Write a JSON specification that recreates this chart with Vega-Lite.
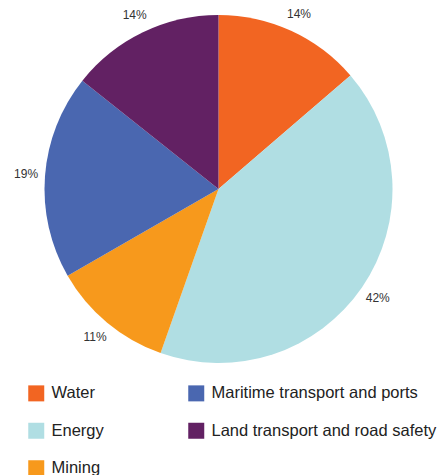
{
  "$schema": "https://vega.github.io/schema/vega-lite/v6.json",
  "width": 437,
  "height": 378,
  "autosize": "none",
  "padding": {"left": 0, "top": 0, "right": 0, "bottom": 97},
  "background": "white",
  "config": {"view": {"stroke": null}, "font": "Liberation Sans"},
  "data": {
    "values": [
      {"sector": "Water", "share": 13.7, "label": "14%", "order": 1},
      {"sector": "Energy", "share": 41.7, "label": "42%", "order": 2},
      {"sector": "Mining", "share": 11.3, "label": "11%", "order": 3},
      {"sector": "Maritime transport and ports", "share": 19.0, "label": "19%", "order": 4},
      {"sector": "Land transport and road safety", "share": 14.3, "label": "14%", "order": 5}
    ]
  },
  "encoding": {
    "theta": {"field": "share", "type": "quantitative", "stack": true},
    "order": {"field": "order", "type": "quantitative"}
  },
  "layer": [
    {
      "mark": {"type": "arc", "outerRadius": 174},
      "encoding": {
        "color": {
          "field": "sector",
          "type": "nominal",
          "scale": {
            "domain": ["Water", "Energy", "Mining", "Maritime transport and ports", "Land transport and road safety"],
            "range": ["#F26522", "#B0DEE3", "#F7991C", "#4A67B0", "#622163"]
          },
          "legend": {
            "title": null,
            "orient": "none",
            "legendX": 28,
            "legendY": 385,
            "columns": 2,
            "symbolType": "square",
            "symbolSize": 256,
            "symbolStrokeWidth": 0,
            "labelFontSize": 16.5,
            "labelColor": "#222222",
            "labelOffset": 7,
            "labelLimit": 400,
            "columnPadding": 84,
            "rowPadding": 20.5,
            "padding": 0
          }
        }
      }
    },
    {
      "mark": {"type": "text", "radius": 193, "fontSize": 12, "color": "#333333"},
      "encoding": {"text": {"field": "label", "type": "nominal"}}
    }
  ]
}
